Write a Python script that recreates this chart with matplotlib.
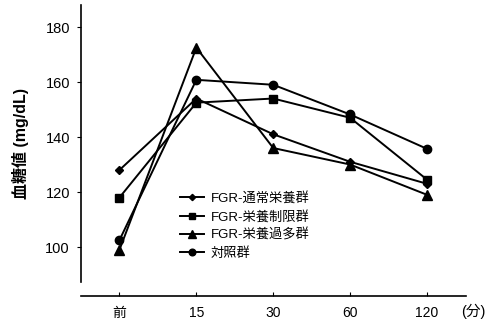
import matplotlib
matplotlib.use("Agg")
import matplotlib.pyplot as plt

plt.rcParams['font.family'] = ['Liberation Sans', 'Noto Sans CJK JP', 'DejaVu Sans']

categories = ['前', '15', '30', '60', '120']
labels = ['FGR-通常栄養群', 'FGR-栄養制限群', 'FGR-栄養過多群', '対照群']
normal = [128, 154, 141, 131, 123]
restricted = [118, 152.5, 154, 147, 124.5]
excess = [99, 172.5, 136, 130, 119]
control = [102.5, 160.8, 159, 148.2, 135.7]
series = [normal, restricted, excess, control]
markers = ['D', 's', '^', 'o']
msizes = [4, 6, 6.5, 6]
yticks = [100, 120, 140, 160, 180]

fig = plt.figure(figsize=(4.88, 3.22), dpi=100)
ax = fig.add_axes([81/488, 1 - 282/322, (465.5 - 81)/488, (282 - 5)/322])
x = list(range(len(categories)))
for vals, m, ms, lab in zip(series, markers, msizes, labels):
    ax.plot(x, vals, color='black', lw=1.4, marker=m, ms=ms, label=lab)

ax.set_xlim(-0.5, 4.5)
ax.set_ylim(87.3, 188)
ax.set_xticks(x)
ax.set_xticklabels(categories, fontsize=10.5)
ax.set_yticks(yticks)
ax.set_yticklabels([str(v) for v in yticks], fontsize=10.5)
ax.spines['top'].set_visible(False)
ax.spines['right'].set_visible(False)
ax.spines['bottom'].set_position(('outward', 10))
ax.spines['left'].set_linewidth(1.2)
ax.spines['bottom'].set_linewidth(1.2)
ax.tick_params(axis='x', direction='in', length=3, pad=7)
ax.tick_params(axis='y', direction='out', length=3, pad=5)
ax.set_ylabel('血糖値 (mg/dL)', fontsize=11.5, labelpad=12, fontweight='bold')
ax.text(4.6, -0.105, '(分)', transform=ax.get_xaxis_transform(), fontsize=10.5,
        ha='center', va='center')
ax.legend(loc='lower left', bbox_to_anchor=(0.245, 0.06), frameon=False,
          fontsize=9.5, handlelength=1.8, handletextpad=0.5, labelspacing=0.42,
          borderaxespad=0, markerscale=0.8)
fig.savefig('out.png', dpi=100)
